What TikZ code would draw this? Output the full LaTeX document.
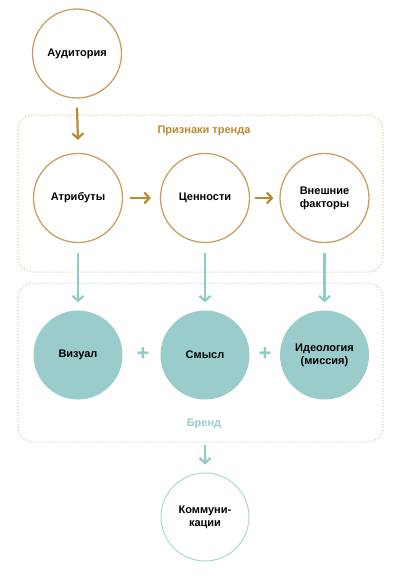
\documentclass[tikz,border=0pt]{standalone}
\usepackage{fontspec}
\setmainfont{Liberation Sans}
\usetikzlibrary{arrows.meta}
\definecolor{gold}{HTML}{C9A063}
\definecolor{goldarrow}{HTML}{B98A2F}
\definecolor{tealfill}{HTML}{9ACCCB}
\definecolor{tealarrow}{HTML}{8FCAC7}
\definecolor{trendbox}{HTML}{D9BE8C}
\definecolor{brandbox}{HTML}{AFC6EA}
\definecolor{tealline}{HTML}{A8D8D4}
\begin{document}
\begin{tikzpicture}[x=1pt,y=-1pt,
  goldcirc/.style={circle,draw=gold,line width=1.3pt,minimum size=89pt,inner sep=0pt,align=center,font=\bfseries\fontsize{11}{13}\selectfont},
  tealcirc/.style={circle,fill=tealfill,minimum size=89pt,inner sep=0pt,align=center,font=\bfseries\fontsize{11}{13}\selectfont},
  lightcirc/.style={circle,draw=tealline,line width=1pt,minimum size=88pt,inner sep=0pt,align=center,font=\bfseries\fontsize{11}{13}\selectfont},
  garrow/.style={draw=goldarrow,line width=2.2pt,-{Straight Barb[length=5pt,width=11pt]}},
  tarrow/.style={draw=tealarrow,line width=2.2pt,-{Straight Barb[length=5pt,width=11pt]}},
  dotbox/.style={rounded corners=15pt,line width=1pt,dash pattern=on 1pt off 2pt},
  plussign/.style={text=tealarrow,font=\bfseries\fontsize{22}{22}\selectfont},
]
\useasboundingbox (0,0) rectangle (400,578);
% boxes
\draw[dotbox,draw=trendbox] (18,115) rectangle (383,272);
\draw[dotbox,draw=brandbox] (18,283) rectangle (383,442);
\node[text=goldarrow,font=\bfseries\fontsize{11}{13}\selectfont] (trend) at (204,131) {Признаки тренда};
\node[text=tealfill,font=\bfseries\fontsize{11}{13}\selectfont] (brand) at (204,424) {Бренд};
% gold circles
\node[goldcirc] (aud) at (77,53.5) {Аудитория};
\node[goldcirc] (attr) at (78,198) {Атрибуты};
\node[goldcirc] (val) at (205,198) {Ценности};
\node[goldcirc] (ext) at (324.5,198) {Внешние\\факторы};
% teal circles
\node[tealcirc] (vis) at (78,355) {Визуал};
\node[tealcirc] (sense) at (205,355) {Смысл};
\node[tealcirc] (ideo) at (324.5,355) {Идеология\\(миссия)};
\node[lightcirc] (comm) at (205,517) {Коммуни-\\кации};
% plus
\node[plussign] (p1) at (143,354) {+};
\node[plussign] (p2) at (265,354) {+};
% arrows
\draw[garrow] ([yshift=-9pt]aud.south) -- ([yshift=13pt]attr.north);
\draw[garrow] ([xshift=7pt]attr.east) -- ([xshift=-9pt]val.west);
\draw[garrow] ([xshift=5pt]val.east) -- ([xshift=-6pt]ext.west);
\draw[tarrow] ([yshift=-10pt]attr.south) -- ([yshift=8pt]vis.north);
\draw[tarrow] ([yshift=-10pt]val.south) -- ([yshift=8pt]sense.north);
\draw[tarrow] ([yshift=-10pt]ext.south) -- ([yshift=8pt]ideo.north);
\coordinate (bbot) at (205,445);
\draw[tarrow] (bbot) -- ([yshift=8pt]comm.north);
\end{tikzpicture}
\end{document}
